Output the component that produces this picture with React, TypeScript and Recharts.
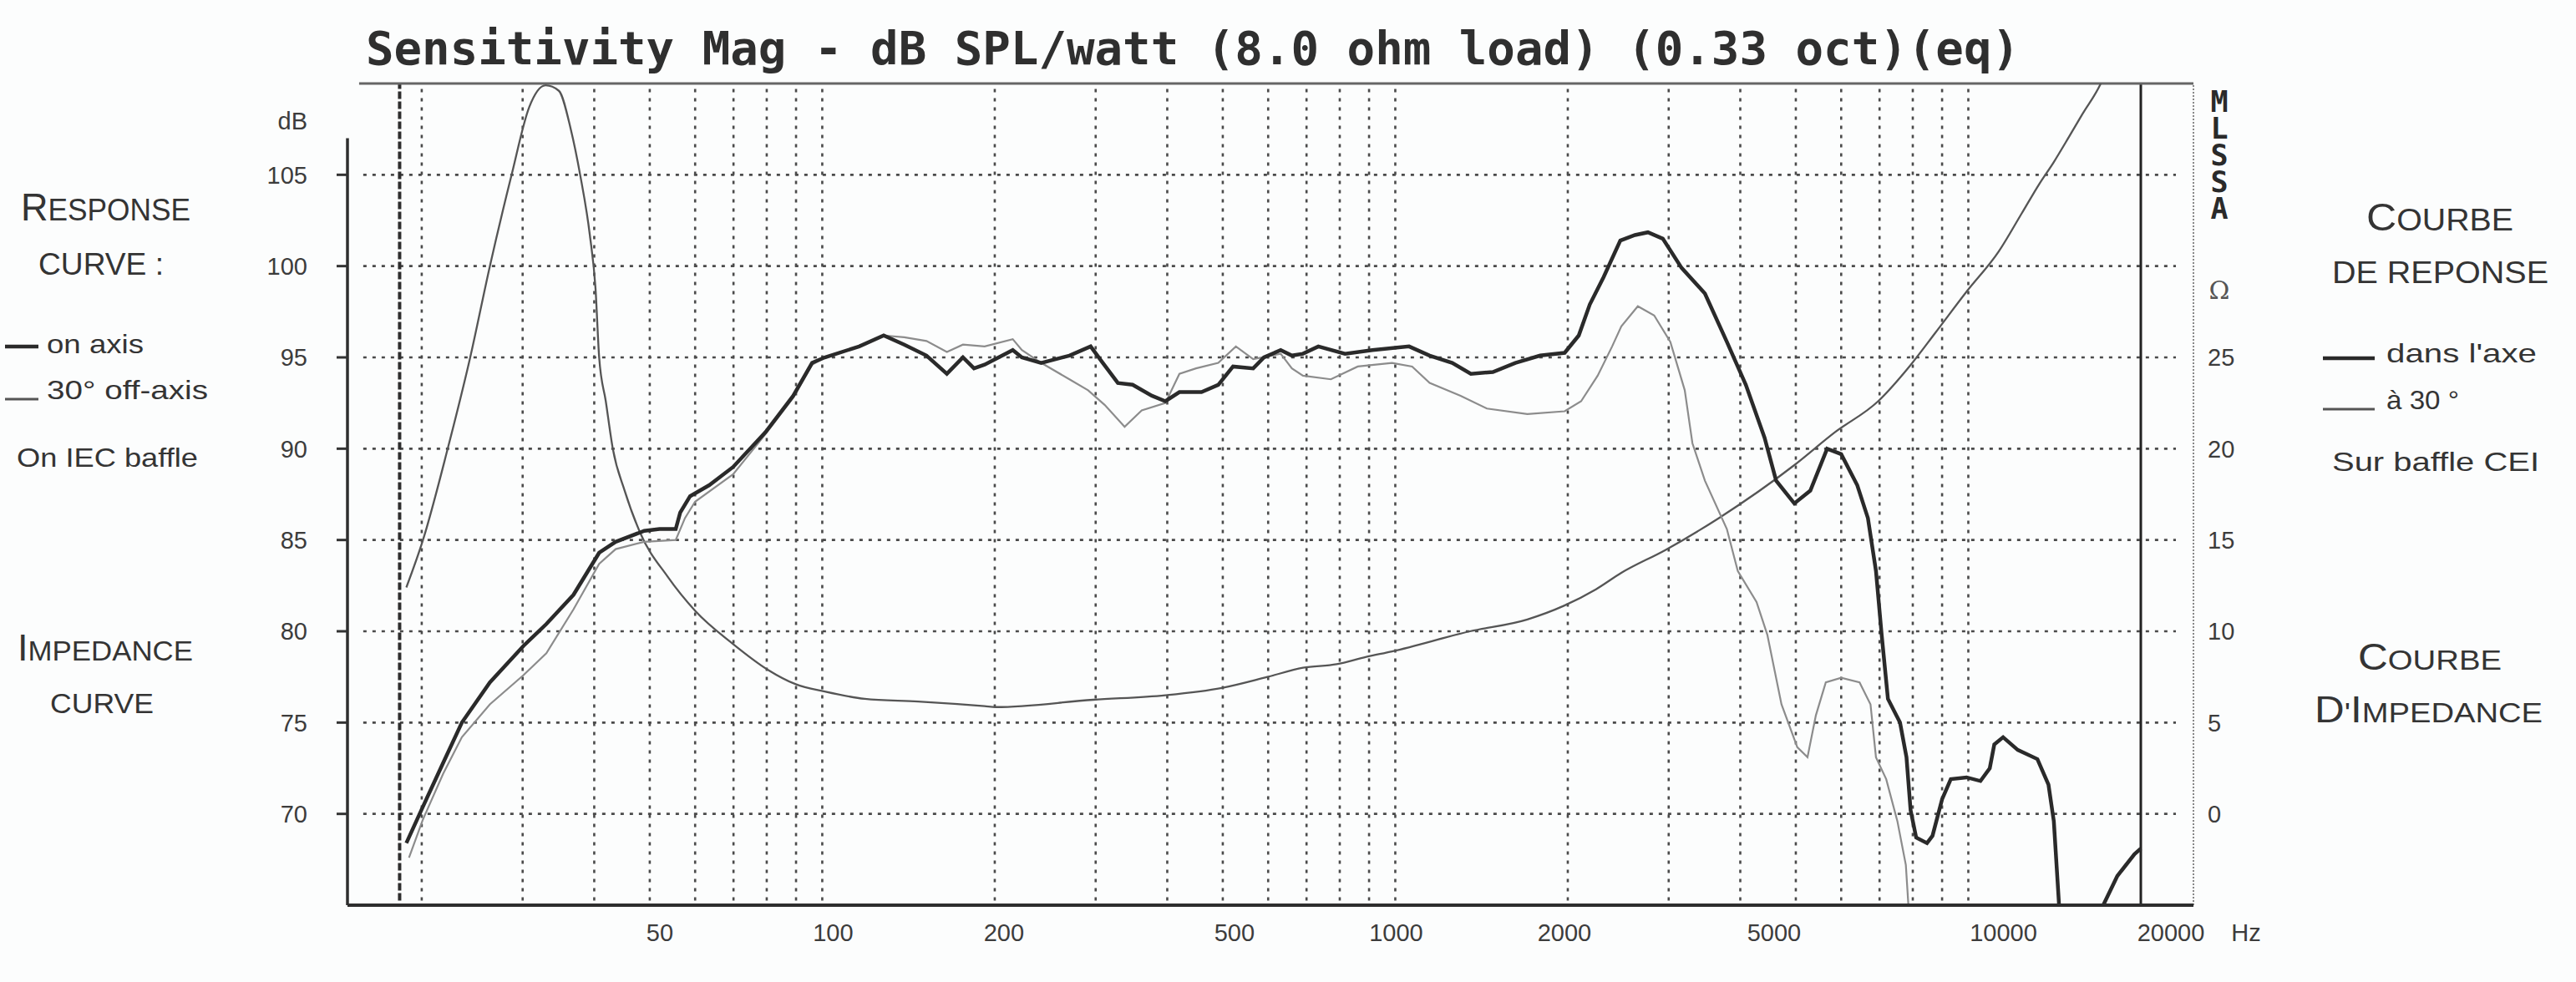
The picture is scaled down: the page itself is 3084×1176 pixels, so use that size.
import React from 'react';
import { LineChart, Line, XAxis, YAxis, ReferenceLine } from 'recharts';

// on-axis response (thick)
const onAxisHz = [
  18.8, 20.1, 21.8, 23.5, 26.3, 30.1, 33, 36.8, 40.8, 43.6, 48.9, 52, 55.5, 56.5, 58.8, 63.5, 69.9, 79.6, 89, 96,
  101, 116, 128, 139, 152, 165, 176, 184, 192, 215, 223, 241, 270, 294, 307, 328, 348, 376, 397, 420,
  459, 491, 521, 565, 590, 631, 660, 690, 734, 817, 912, 1057, 1148, 1257, 1355, 1480, 1620, 1790, 1975, 2090,
  2185, 2310, 2470, 2620, 2760, 2930, 3160, 3470, 3790, 4090, 4410, 4620, 4970, 5300, 5670, 6000, 6400, 6680, 6900, 7060,
  7240, 7600, 7800, 7930, 8110, 8470, 8660, 9000, 9320, 9930, 10500, 10900, 11100, 11500, 12200, 13200, 13800, 14100, 14400, 15000,
  16500, 17200, 18200, 19500, 20000,
];
const onAxisDb = [
  68.4, 70.4, 72.8, 75.0, 77.2, 79.2, 80.4, 82.0, 84.3, 84.9, 85.5, 85.6, 85.6, 86.5, 87.4, 88.0, 89.0, 90.9, 92.9, 94.7,
  95.0, 95.6, 96.2, 95.7, 95.1, 94.1, 95.0, 94.4, 94.6, 95.4, 95.0, 94.7, 95.1, 95.6, 94.8, 93.6, 93.5, 92.9, 92.6, 93.1,
  93.1, 93.5, 94.5, 94.4, 95.0, 95.4, 95.1, 95.2, 95.6, 95.2, 95.4, 95.6, 95.1, 94.7, 94.1, 94.2, 94.7, 95.1, 95.25, 96.2,
  97.9, 99.4, 101.4, 101.7, 101.85, 101.5, 99.9, 98.5, 95.85, 93.5, 90.6, 88.25, 87.0, 87.7, 90.0, 89.7, 88.0, 86.2, 83.3, 79.8,
  76.3, 75.0, 73.1, 70.2, 68.7, 68.4, 68.8, 70.8, 71.9, 72.0, 71.8, 72.5, 73.8, 74.2, 73.5, 73.0, 71.6, 69.6, 65.0, 60.0,
  60.0, 65.0, 66.6, 67.8, 68.1,
];

// 30 degree off-axis response (thin grey)
const offAxisHz = [
  19.0, 20.1, 21.8, 23.5, 26.3, 30.1, 33, 36.8, 40.8, 43.6, 48.9, 55.5, 57.6, 60, 69.9, 79.6, 89, 96, 101, 116,
  128, 139, 152, 165, 176, 192, 215, 223, 241, 270, 291, 311, 337, 361, 397, 420, 449, 491, 527, 565,
  631, 660, 690, 772, 860, 987, 1070, 1148, 1300, 1445, 1700, 1975, 2110, 2255, 2390, 2480, 2650, 2830, 3020, 3200,
  3300, 3470, 3790, 3960, 4270, 4460, 4720, 5030, 5240, 5420, 5640, 6000, 6460, 6750, 6900, 7190, 7520, 7780, 7860, 8100,
];
const offAxisDb = [
  67.6, 69.7, 72.2, 74.2, 76.0, 77.6, 78.8, 81.2, 83.7, 84.5, 84.9, 85.0, 86.2, 87.1, 88.6, 90.8, 92.8, 94.6, 95.0, 95.6,
  96.2, 96.1, 95.9, 95.3, 95.7, 95.6, 96.0, 95.4, 94.7, 93.8, 93.2, 92.4, 91.2, 92.1, 92.5, 94.1, 94.4, 94.7, 95.6, 94.9,
  95.2, 94.4, 94.0, 93.8, 94.5, 94.7, 94.5, 93.6, 92.9, 92.2, 91.9, 92.05, 92.6, 94.0, 95.6, 96.7, 97.8, 97.3, 95.85, 93.2,
  90.3, 88.25, 85.6, 83.3, 81.6, 79.8, 76.0, 73.65, 73.1, 75.4, 77.2, 77.45, 77.2, 76.0, 73.1, 71.9, 69.6, 67.2, 65.0, 61.0,
];

// impedance modulus, ohms (right axis)
const impedanceHz = [
  18.8, 20.1, 22.2, 24.3, 26.3, 28.7, 30.8, 32.9, 34.7, 36.4, 37.8, 39.3, 40.2, 40.8, 41.9, 43.1, 45.2, 48.1, 53.7, 60.1,
  69.9, 80.3, 89.9, 101, 118.6, 147, 192, 201, 297, 397, 498, 598, 690, 790, 890, 987, 1350, 1700, 1970, 2240,
  2480, 2960, 3670, 4970, 5850, 6960, 7890, 8760, 9930, 11300, 12400, 13300, 14100, 15000, 15800, 17200, 18200,
];
const impedanceOhm = [
  12.4, 15.0, 20.0, 25.0, 30.0, 35.0, 38.7, 39.9, 39.6, 37.5, 35.0, 31.7, 28.8, 25.0, 22.6, 20.0, 17.7, 15.4, 13.0, 11.1,
  9.3, 7.9, 7.1, 6.7, 6.3, 6.15, 5.9, 5.85, 6.25, 6.5, 6.9, 7.5, 8.0, 8.2, 8.6, 8.9, 10.0, 10.65, 11.4, 12.3,
  13.2, 14.45, 16.2, 19.1, 20.9, 22.6, 24.5, 26.35, 28.6, 30.8, 32.9, 34.5, 35.7, 37.1, 38.3, 40.3, 42.5,
];

const freqTicks = [50, 100, 200, 500, 1000, 2000, 5000, 10000, 20000];
const gridHz = [
  20, 30, 40, 50, 60, 70, 80, 90, 100, 200, 300, 400, 500, 600, 700, 800, 900,
  1000, 2000, 3000, 4000, 5000, 6000, 7000, 8000, 9000, 10000,
];
const dbTicks = [70, 75, 80, 85, 90, 95, 100, 105];
const ohmTicks = [0, 5, 10, 15, 20, 25];
const startMarkerHz = 18.3;
const limitHz = 20000;

const X_MIN = 14.84;
const X_MAX = 24710;
const DB_MIN = 65;
const DB_MAX = 110;

// printed labels sit a little off their grid lines in the original
const labelNudge: { [k: number]: number } = {
  50: 12, 100: 13, 200: 11, 500: 14, 1000: 1, 2000: -4, 5000: -26, 10000: 42, 20000: 36,
};

const SANS = '"Liberation Sans", Arial, Helvetica, sans-serif';
const MONO = '"DejaVu Sans Mono", "Liberation Mono", monospace';
const INK = '#343434';

const onAxis = onAxisHz.map((f, i) => ({ f, v: onAxisDb[i] }));
const offAxis = offAxisHz.map((f, i) => ({ f, v: offAxisDb[i] }));
const impedance = impedanceHz.map((f, i) => ({ f, v: impedanceOhm[i] }));

function FreqTick({ x, y, payload }: any) {
  const v = payload.value;
  return (
    <g>
      <text x={x + (labelNudge[v] || 0)} y={y + 43} textAnchor="middle" fontSize={29} fill="#3c3c3c" fontFamily={SANS}>
        {v}
      </text>
      {v === 20000 && (
        <text x={x + 126} y={y + 43} textAnchor="middle" fontSize={29} fill="#3c3c3c" fontFamily={SANS}>
          Hz
        </text>
      )}
    </g>
  );
}

const gridStyle = { stroke: '#4a4a4a', strokeWidth: 2.6, strokeDasharray: '4 7' };

function SideText({ x, y, w, size, children }: any) {
  return (
    <text x={x} y={y} textLength={w} lengthAdjust="spacingAndGlyphs" fontSize={size} fill={INK} fontFamily={SANS}>
      {children}
    </text>
  );
}

export default function App() {
  return (
    <div style={{ position: 'absolute', left: 0, top: 0, width: 3084, height: 1176, background: '#fcfdfd', overflow: 'hidden' }}>
      <LineChart
        width={3084}
        height={1176}
        margin={{ top: 100, right: 398, bottom: 32, left: 336 }}
      >
        <XAxis
          dataKey="f"
          type="number"
          scale="log"
          domain={[X_MIN, X_MAX]}
          allowDataOverflow
          ticks={freqTicks}
          height={60}
          tickSize={0}
          tickMargin={0}
          tickLine={false}
          axisLine={{ stroke: '#2e2e2e', strokeWidth: 4 }}
          tick={<FreqTick />}
          interval={0}
        />
        <YAxis
          yAxisId="db"
          orientation="left"
          type="number"
          domain={[DB_MIN, DB_MAX]}
          allowDataOverflow
          ticks={dbTicks}
          width={80}
          axisLine={false}
          tickSize={13}
          tickMargin={35}
          tickLine={{ stroke: '#333', strokeWidth: 3 }}
          tick={{ fontSize: 29, fill: '#3c3c3c', fontFamily: SANS }}
          interval={0}
        />
        <YAxis
          yAxisId="ohm"
          orientation="right"
          type="number"
          domain={[DB_MIN - 70, DB_MAX - 70]}
          allowDataOverflow
          ticks={ohmTicks}
          width={60}
          axisLine={false}
          tickLine={false}
          tickSize={0}
          tickMargin={17}
          tick={{ fontSize: 29, fill: '#3c3c3c', fontFamily: SANS, textAnchor: 'start' }}
          interval={0}
        />

        {dbTicks.map((d) => (
          <ReferenceLine
            key={'h' + d}
            yAxisId="db"
            segment={[{ x: 15.81, y: d }, { x: 23030, y: d }]}
            {...gridStyle}
          />
        ))}
        {gridHz.map((f) => (
          <ReferenceLine
            key={'v' + f}
            yAxisId="db"
            segment={[{ x: f, y: 65.25 }, { x: f, y: 109.85 }]}
            {...gridStyle}
          />
        ))}
        <ReferenceLine
          yAxisId="db"
          segment={[{ x: startMarkerHz, y: 65.25 }, { x: startMarkerHz, y: 110 }]}
          stroke="#2e2e2e"
          strokeWidth={4}
          strokeDasharray="9 3"
        />
        <ReferenceLine yAxisId="db" x={limitHz} stroke="#222" strokeWidth={3} />
        <ReferenceLine yAxisId="db" x={X_MAX} stroke="#888" strokeWidth={2} strokeDasharray="2 2" />
        <ReferenceLine
          yAxisId="db"
          segment={[{ x: 15.55, y: DB_MAX }, { x: X_MAX, y: DB_MAX }]}
          stroke="#666"
          strokeWidth={3}
        />
        <ReferenceLine
          yAxisId="db"
          segment={[{ x: X_MIN, y: 107 }, { x: X_MIN, y: DB_MIN }]}
          stroke="#2e2e2e"
          strokeWidth={3.5}
        />

        <Line
          data={impedance}
          dataKey="v"
          yAxisId="ohm"
          type="monotone"
          stroke="#555"
          strokeWidth={2.3}
          dot={false}
          activeDot={false}
          isAnimationActive={false}
        />
        <Line
          data={offAxis}
          dataKey="v"
          yAxisId="db"
          type="linear"
          stroke="#8c8c8c"
          strokeWidth={2.2}
          dot={false}
          activeDot={false}
          isAnimationActive={false}
        />
        <Line
          data={onAxis}
          dataKey="v"
          yAxisId="db"
          type="linear"
          stroke="#2a2a2a"
          strokeWidth={4.5}
          dot={false}
          activeDot={false}
          isAnimationActive={false}
        />
      </LineChart>

      <svg
        width={3084}
        height={1176}
        style={{ position: 'absolute', left: 0, top: 0, pointerEvents: 'none' }}
      >
        <text x={438} y={77} textLength={1980} lengthAdjust="spacingAndGlyphs" fontSize={55} fontWeight="bold" fill="#2f2f2f" fontFamily={MONO}>
          Sensitivity Mag - dB SPL/watt (8.0 ohm load) (0.33 oct)(eq)
        </text>

        <text x={368} y={155} textAnchor="end" fontSize={29} fill="#3c3c3c" fontFamily={SANS}>dB</text>

        <text
          x={2657}
          y={102}
          fontSize={35}
          fontWeight="bold"
          fill="#2a2a2a"
          fontFamily={MONO}
          letterSpacing={-8}
          style={{ writingMode: 'vertical-rl', textOrientation: 'upright' } as any}
        >
          MLSSA
        </text>
        <text x={2657} y={358} textAnchor="middle" fontSize={30} fill="#555" fontFamily='"DejaVu Serif", "Liberation Serif", serif'>Ω</text>

        {/* left notes */}
        <SideText x={25} y={264} w={203} size={36}>
          <tspan fontSize={46}>R</tspan>ESPONSE
        </SideText>
        <SideText x={46} y={329} w={150} size={36}>CURVE :</SideText>
        <line x1={6} y1={415} x2={46} y2={415} stroke="#2a2a2a" strokeWidth={4.5} />
        <SideText x={56} y={423} w={116} size={32}>on axis</SideText>
        <line x1={6} y1={478} x2={46} y2={478} stroke="#555" strokeWidth={3} />
        <SideText x={56} y={478} w={193} size={32}>30° off-axis</SideText>
        <SideText x={20} y={559} w={217} size={32}>On IEC baffle</SideText>
        <SideText x={21} y={791} w={210} size={34}>
          <tspan fontSize={44}>I</tspan>MPEDANCE
        </SideText>
        <SideText x={60} y={854} w={124} size={34}>CURVE</SideText>

        {/* right notes */}
        <SideText x={2833} y={276} w={176} size={36}>
          <tspan fontSize={46}>C</tspan>OURBE
        </SideText>
        <SideText x={2792} y={339} w={259} size={36}>DE REPONSE</SideText>
        <line x1={2781} y1={429} x2={2843} y2={429} stroke="#2a2a2a" strokeWidth={4.5} />
        <SideText x={2857} y={434} w={180} size={32}>dans l'axe</SideText>
        <line x1={2781} y1={490} x2={2843} y2={490} stroke="#555" strokeWidth={3} />
        <SideText x={2857} y={490} w={87} size={32}>à 30 °</SideText>
        <SideText x={2792} y={564} w={248} size={32}>Sur baffle CEI</SideText>
        <SideText x={2823} y={802} w={172} size={34}>
          <tspan fontSize={44}>C</tspan>OURBE
        </SideText>
        <SideText x={2771} y={865} w={273} size={34}>
          <tspan fontSize={44}>D</tspan>'<tspan fontSize={44}>I</tspan>MPEDANCE
        </SideText>
      </svg>
    </div>
  );
}
